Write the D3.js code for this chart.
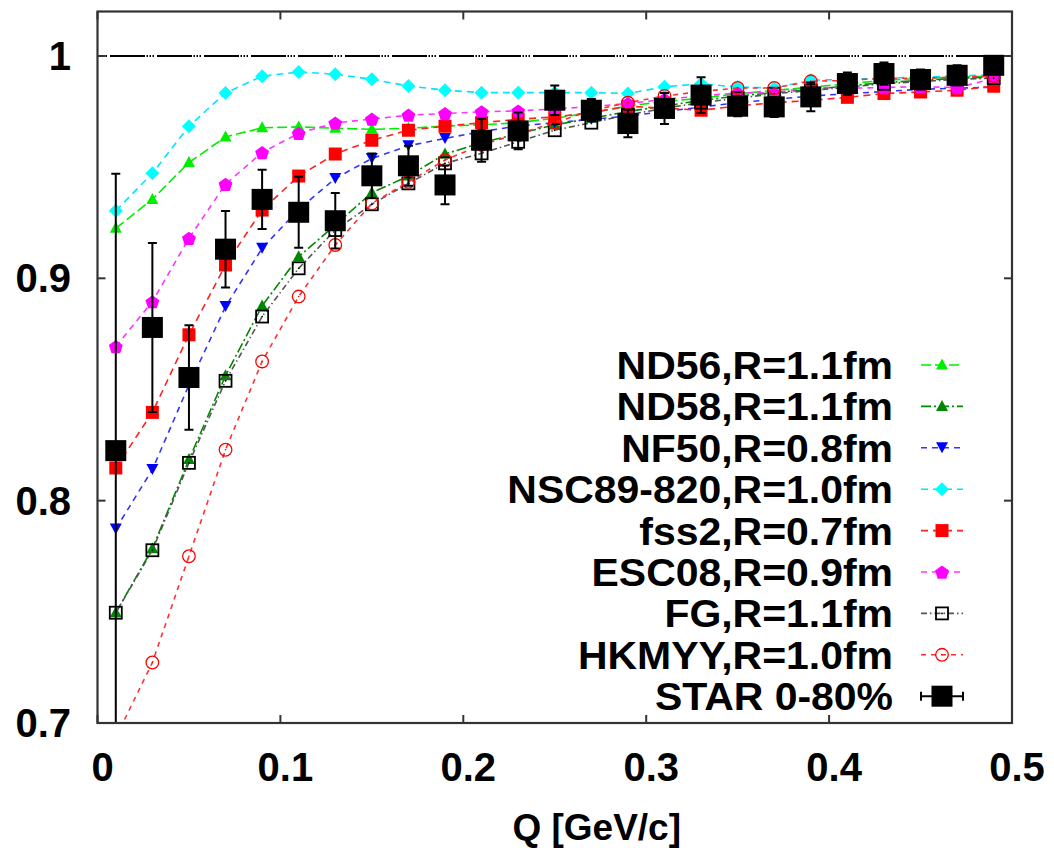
<!DOCTYPE html>
<html>
<head>
<meta charset="utf-8">
<script src="https://cdn.jsdelivr.net/npm/d3@7"></script>
<style>
  html, body { margin: 0; padding: 0; background: #fff; }
  svg { display: block; }
  text { font-family: "Liberation Sans", Arial, sans-serif; font-weight: bold; fill: #000; }
</style>
</head>
<body>
<svg id="chart" width="1054" height="848"></svg>
<script>
// Q grid of the correlation function (GeV/c)
const qValues = [0.01, 0.03, 0.05, 0.07, 0.09, 0.11, 0.13, 0.15, 0.17, 0.19, 0.21, 0.23, 0.25,
                 0.27, 0.29, 0.31, 0.33, 0.35, 0.37, 0.39, 0.41, 0.43, 0.45, 0.47, 0.49];

// Model predictions C(Q)
const nd56 = [0.9225, 0.9355, 0.9521, 0.9636, 0.9677, 0.9681, 0.9675, 0.9670, 0.9675, 0.9685, 0.9690, 0.9700, 0.9720,
              0.9745, 0.9775, 0.9795, 0.9810, 0.9830, 0.9845, 0.9860, 0.9875, 0.9890, 0.9900, 0.9905, 0.9910];
const nd58 = [0.7496, 0.7784, 0.8185, 0.8562, 0.8876, 0.9097, 0.9240, 0.9385, 0.9460, 0.9559, 0.9610, 0.9650, 0.9690,
              0.9720, 0.9750, 0.9775, 0.9800, 0.9820, 0.9835, 0.9850, 0.9865, 0.9880, 0.9890, 0.9900, 0.9905];
const nf50 = [0.7873, 0.8140, 0.8520, 0.8873, 0.9135, 0.9310, 0.9449, 0.9539, 0.9596, 0.9629, 0.9660, 0.9685, 0.9700,
              0.9715, 0.9730, 0.9750, 0.9770, 0.9790, 0.9805, 0.9820, 0.9830, 0.9840, 0.9850, 0.9855, 0.9860];
const nsc89 = [0.9304, 0.9472, 0.9684, 0.9834, 0.9909, 0.9928, 0.9918, 0.9895, 0.9865, 0.9846, 0.9835, 0.9835, 0.9835,
               0.9835, 0.9831, 0.9861, 0.9875, 0.9860, 0.9856, 0.9891, 0.9895, 0.9900, 0.9905, 0.9910, 0.9915];
const fss2 = [0.8147, 0.8397, 0.8746, 0.9060, 0.9307, 0.9460, 0.9559, 0.9621, 0.9666, 0.9684, 0.9700, 0.9715, 0.9726,
              0.9745, 0.9774, 0.9765, 0.9756, 0.9775, 0.9790, 0.9800, 0.9814, 0.9831, 0.9838, 0.9846, 0.9864];
const esc08 = [0.8693, 0.8895, 0.9180, 0.9423, 0.9566, 0.9652, 0.9699, 0.9716, 0.9734, 0.9741, 0.9749, 0.9753, 0.9762,
               0.9772, 0.9786, 0.9805, 0.9820, 0.9834, 0.9834, 0.9860, 0.9855, 0.9858, 0.9862, 0.9858, 0.9898];
const fg = [0.7496, 0.7777, 0.8170, 0.8539, 0.8828, 0.9045, 0.9217, 0.9333, 0.9427, 0.9517, 0.9562, 0.9614, 0.9666,
            0.9700, 0.9735, 0.9765, 0.9790, 0.9810, 0.9830, 0.9845, 0.9860, 0.9875, 0.9885, 0.9895, 0.9900];
const hkmyy = [0.6935, 0.7272, 0.7750, 0.8229, 0.8626, 0.8918, 0.9150, 0.9337, 0.9434, 0.9532, 0.9600, 0.9650, 0.9700,
               0.9755, 0.9790, 0.9820, 0.9840, 0.9856, 0.9856, 0.9886, 0.9890, 0.9900, 0.9900, 0.9905, 0.9910];

// STAR 0-80% measurement and its statistical error
const starC = [0.8225, 0.8779, 0.8554, 0.9131, 0.9355, 0.9297, 0.9259, 0.9461, 0.9506, 0.9420, 0.9621, 0.9663, 0.9801,
               0.9756, 0.9696, 0.9764, 0.9824, 0.9774, 0.9771, 0.9816, 0.9876, 0.9921, 0.9894, 0.9913, 0.9958];
const starErr = [0.1245, 0.0380, 0.0235, 0.0172, 0.0133, 0.0160, 0.0125, 0.0100, 0.0090, 0.0087, 0.0097, 0.0083, 0.0066,
                 0.0050, 0.0062, 0.0070, 0.0080, 0.0045, 0.0045, 0.0065, 0.0050, 0.0050, 0.0045, 0.0045, 0.0035];

const seriesNames = ["ND56,R=1.1fm", "ND58,R=1.1fm", "NF50,R=0.8fm", "NSC89-820,R=1.0fm",
                     "fss2,R=0.7fm", "ESC08,R=0.9fm", "FG,R=1.1fm", "HKMYY,R=1.0fm"];
const dataName = "STAR 0-80%";

const xTicks = [0, 0.1, 0.2, 0.3, 0.4, 0.5];
const yTicks = [0.7, 0.8, 0.9, 1];
const xTitle = "Q [GeV/c]";

// ---- layout ----
const svg = d3.select("#chart");
const plot = { left: 97.5, right: 1012, top: 11.5, bottom: 723 };

const x = d3.scaleLinear().domain([0, 0.5]).range([plot.left, plot.right]);
const y = d3.scaleLinear().domain([0.7, 1.02]).range([plot.bottom, plot.top]);

svg.append("rect").attr("width", 1054).attr("height", 848).attr("fill", "#fff");

svg.append("defs").append("clipPath").attr("id", "plotClip")
  .append("rect")
  .attr("x", plot.left).attr("y", plot.top)
  .attr("width", plot.right - plot.left).attr("height", plot.bottom - plot.top);

// ---- marker shapes ----
function triUp(g, c) {
  g.append("path").attr("d", "M0,-6.5L6,4.5L-6,4.5Z").attr("fill", c);
}
function triDown(g, c) {
  g.append("path").attr("d", "M0,5.5L6,-5.5L-6,-5.5Z").attr("fill", c);
}
function diamond(g, c) {
  g.append("path").attr("d", "M0,-7L7,0L0,7L-7,0Z").attr("fill", c);
}
function pentagon(g, c) {
  const r = 7.3;
  const pts = d3.range(5).map(i => {
    const a = -Math.PI / 2 + i * 2 * Math.PI / 5;
    return [r * Math.cos(a), r * Math.sin(a) + 0.8];
  });
  g.append("path").attr("d", "M" + pts.map(p => p.join(",")).join("L") + "Z").attr("fill", c);
}
function fillSquare(g, c) {
  g.append("rect").attr("x", -6.5).attr("y", -6.5).attr("width", 13).attr("height", 13).attr("fill", c);
}
function openSquare(g, c) {
  g.append("rect").attr("x", -6).attr("y", -6).attr("width", 12).attr("height", 12)
    .attr("fill", "none").attr("stroke", c).attr("stroke-width", 1.8);
  g.append("circle").attr("r", 0.9).attr("fill", c);
}
function openCircle(g, c) {
  g.append("circle").attr("r", 6.3).attr("fill", "none").attr("stroke", c).attr("stroke-width", 1.3);
  g.append("circle").attr("r", 0.8).attr("fill", c);
}

const models = [
  { values: nd56,  color: "#00ee00", line: "#00ee00", dash: "10,4",    marker: triUp },
  { values: nd58,  color: "#008800", line: "#008800", dash: "10,3,2,3", marker: triUp },
  { values: nf50,  color: "#0000ff", line: "#3333ff", dash: "6,5",     marker: triDown },
  { values: nsc89, color: "#00ffff", line: "#00e5ff", dash: "7,5",     marker: diamond },
  { values: fss2,  color: "#ff0000", line: "#ff2020", dash: "7,5",     marker: fillSquare },
  { values: esc08, color: "#ff00ff", line: "#ff33ff", dash: "6,5",     marker: pentagon },
  { values: fg,    color: "#000000", line: "#555555", dash: "6,3,1.5,3", marker: openSquare },
  { values: hkmyy, color: "#ff0000", line: "#ff3030", dash: "5,5",     marker: openCircle }
];
models.forEach((m, i) => { m.name = seriesNames[i]; });

// ---- reference line at C = 1: long solid runs broken by short dotted stretches ----
svg.append("line")
  .attr("x1", plot.left).attr("x2", plot.right)
  .attr("y1", y(1)).attr("y2", y(1))
  .attr("stroke", "#000").attr("stroke-width", 2)
  .attr("stroke-dasharray", "35,1.5,1.5,1.5,1.5,1.5,1.5,3")
  .attr("stroke-dashoffset", 34.5);

// ---- model curves ----
const plotArea = svg.append("g").attr("clip-path", "url(#plotClip)");
const lineGen = d3.line().x((d, i) => x(qValues[i])).y(d => y(d));

models.forEach(m => {
  const g = plotArea.append("g");
  g.append("path")
    .datum(m.values)
    .attr("d", lineGen)
    .attr("fill", "none")
    .attr("stroke", m.line)
    .attr("stroke-width", 1.6)
    .attr("stroke-dasharray", m.dash);
  m.values.forEach((v, i) => {
    if (v < 0.7) return;
    const pg = g.append("g").attr("transform", `translate(${x(qValues[i])},${y(v)})`);
    m.marker(pg, m.color);
  });
});

// ---- STAR data with error bars ----
const starG = plotArea.append("g");
starC.forEach((v, i) => {
  const cx = x(qValues[i]);
  const lo = Math.max(0.69, v - starErr[i]), hi = v + starErr[i];
  starG.append("line").attr("x1", cx).attr("x2", cx).attr("y1", y(lo)).attr("y2", y(hi))
    .attr("stroke", "#000").attr("stroke-width", 2);
  [v - starErr[i], hi].forEach(e => {
    if (e < 0.7) return;
    starG.append("line").attr("x1", cx - 4.5).attr("x2", cx + 4.5).attr("y1", y(e)).attr("y2", y(e))
      .attr("stroke", "#000").attr("stroke-width", 2);
  });
  starG.append("rect").attr("x", cx - 10.5).attr("y", y(v) - 10.5)
    .attr("width", 21).attr("height", 21).attr("fill", "#000");
});

// ---- frame and ticks ----
const axisG = svg.append("g");
const tickLen = 8;
xTicks.forEach(t => {
  axisG.append("line").attr("x1", x(t)).attr("x2", x(t)).attr("y1", plot.bottom).attr("y2", plot.bottom - tickLen)
    .attr("stroke", "#333").attr("stroke-width", 2);
  axisG.append("line").attr("x1", x(t)).attr("x2", x(t)).attr("y1", plot.top).attr("y2", plot.top + tickLen)
    .attr("stroke", "#333").attr("stroke-width", 2);
  axisG.append("text").attr("x", x(t) + 5).attr("y", 781)
    .attr("text-anchor", "middle").attr("font-size", 40).text(d3.format("")(t));
});
yTicks.forEach(t => {
  axisG.append("line").attr("x1", plot.left).attr("x2", plot.left + tickLen).attr("y1", y(t)).attr("y2", y(t))
    .attr("stroke", "#333").attr("stroke-width", 2);
  axisG.append("line").attr("x1", plot.right).attr("x2", plot.right - tickLen).attr("y1", y(t)).attr("y2", y(t))
    .attr("stroke", "#333").attr("stroke-width", 2);
  axisG.append("text").attr("x", 71).attr("y", y(t) + 14)
    .attr("text-anchor", "end").attr("font-size", 40).text(d3.format("")(t));
});
axisG.append("rect")
  .attr("x", plot.left).attr("y", plot.top)
  .attr("width", plot.right - plot.left).attr("height", plot.bottom - plot.top)
  .attr("fill", "none").attr("stroke", "#333").attr("stroke-width", 2.2);

svg.append("text").attr("x", 681).attr("y", 840)
  .attr("text-anchor", "end").attr("font-size", 37).text(xTitle);

// ---- legend (labels slightly widened, right-aligned) ----
const legend = svg.append("g");
const legTextX = 893, legLineX1 = 921, legLineX2 = 963, legMarkX = 942;
const legY0 = 365, legStep = 41.4;
function legendLabel(txt, ly) {
  legend.append("text")
    .attr("transform", `translate(${legTextX},${ly + 14}) scale(1.05,1)`)
    .attr("text-anchor", "end").attr("font-size", 39).text(txt);
}
models.forEach((m, i) => {
  const ly = legY0 + i * legStep;
  legendLabel(m.name, ly);
  legend.append("line").attr("x1", legLineX1).attr("x2", legLineX2).attr("y1", ly).attr("y2", ly)
    .attr("stroke", m.line).attr("stroke-width", 1.6).attr("stroke-dasharray", m.dash);
  m.marker(legend.append("g").attr("transform", `translate(${legMarkX},${ly})`), m.color);
});
{
  const ly = legY0 + models.length * legStep;
  legendLabel(dataName, ly);
  legend.append("line").attr("x1", legLineX1).attr("x2", legLineX2).attr("y1", ly).attr("y2", ly)
    .attr("stroke", "#000").attr("stroke-width", 2);
  [legLineX1, legLineX2].forEach(cx => legend.append("line")
    .attr("x1", cx).attr("x2", cx).attr("y1", ly - 4.5).attr("y2", ly + 4.5)
    .attr("stroke", "#000").attr("stroke-width", 2));
  legend.append("rect").attr("x", legMarkX - 10.5).attr("y", ly - 10.5)
    .attr("width", 21).attr("height", 21).attr("fill", "#000");
}
</script>
</body>
</html>
